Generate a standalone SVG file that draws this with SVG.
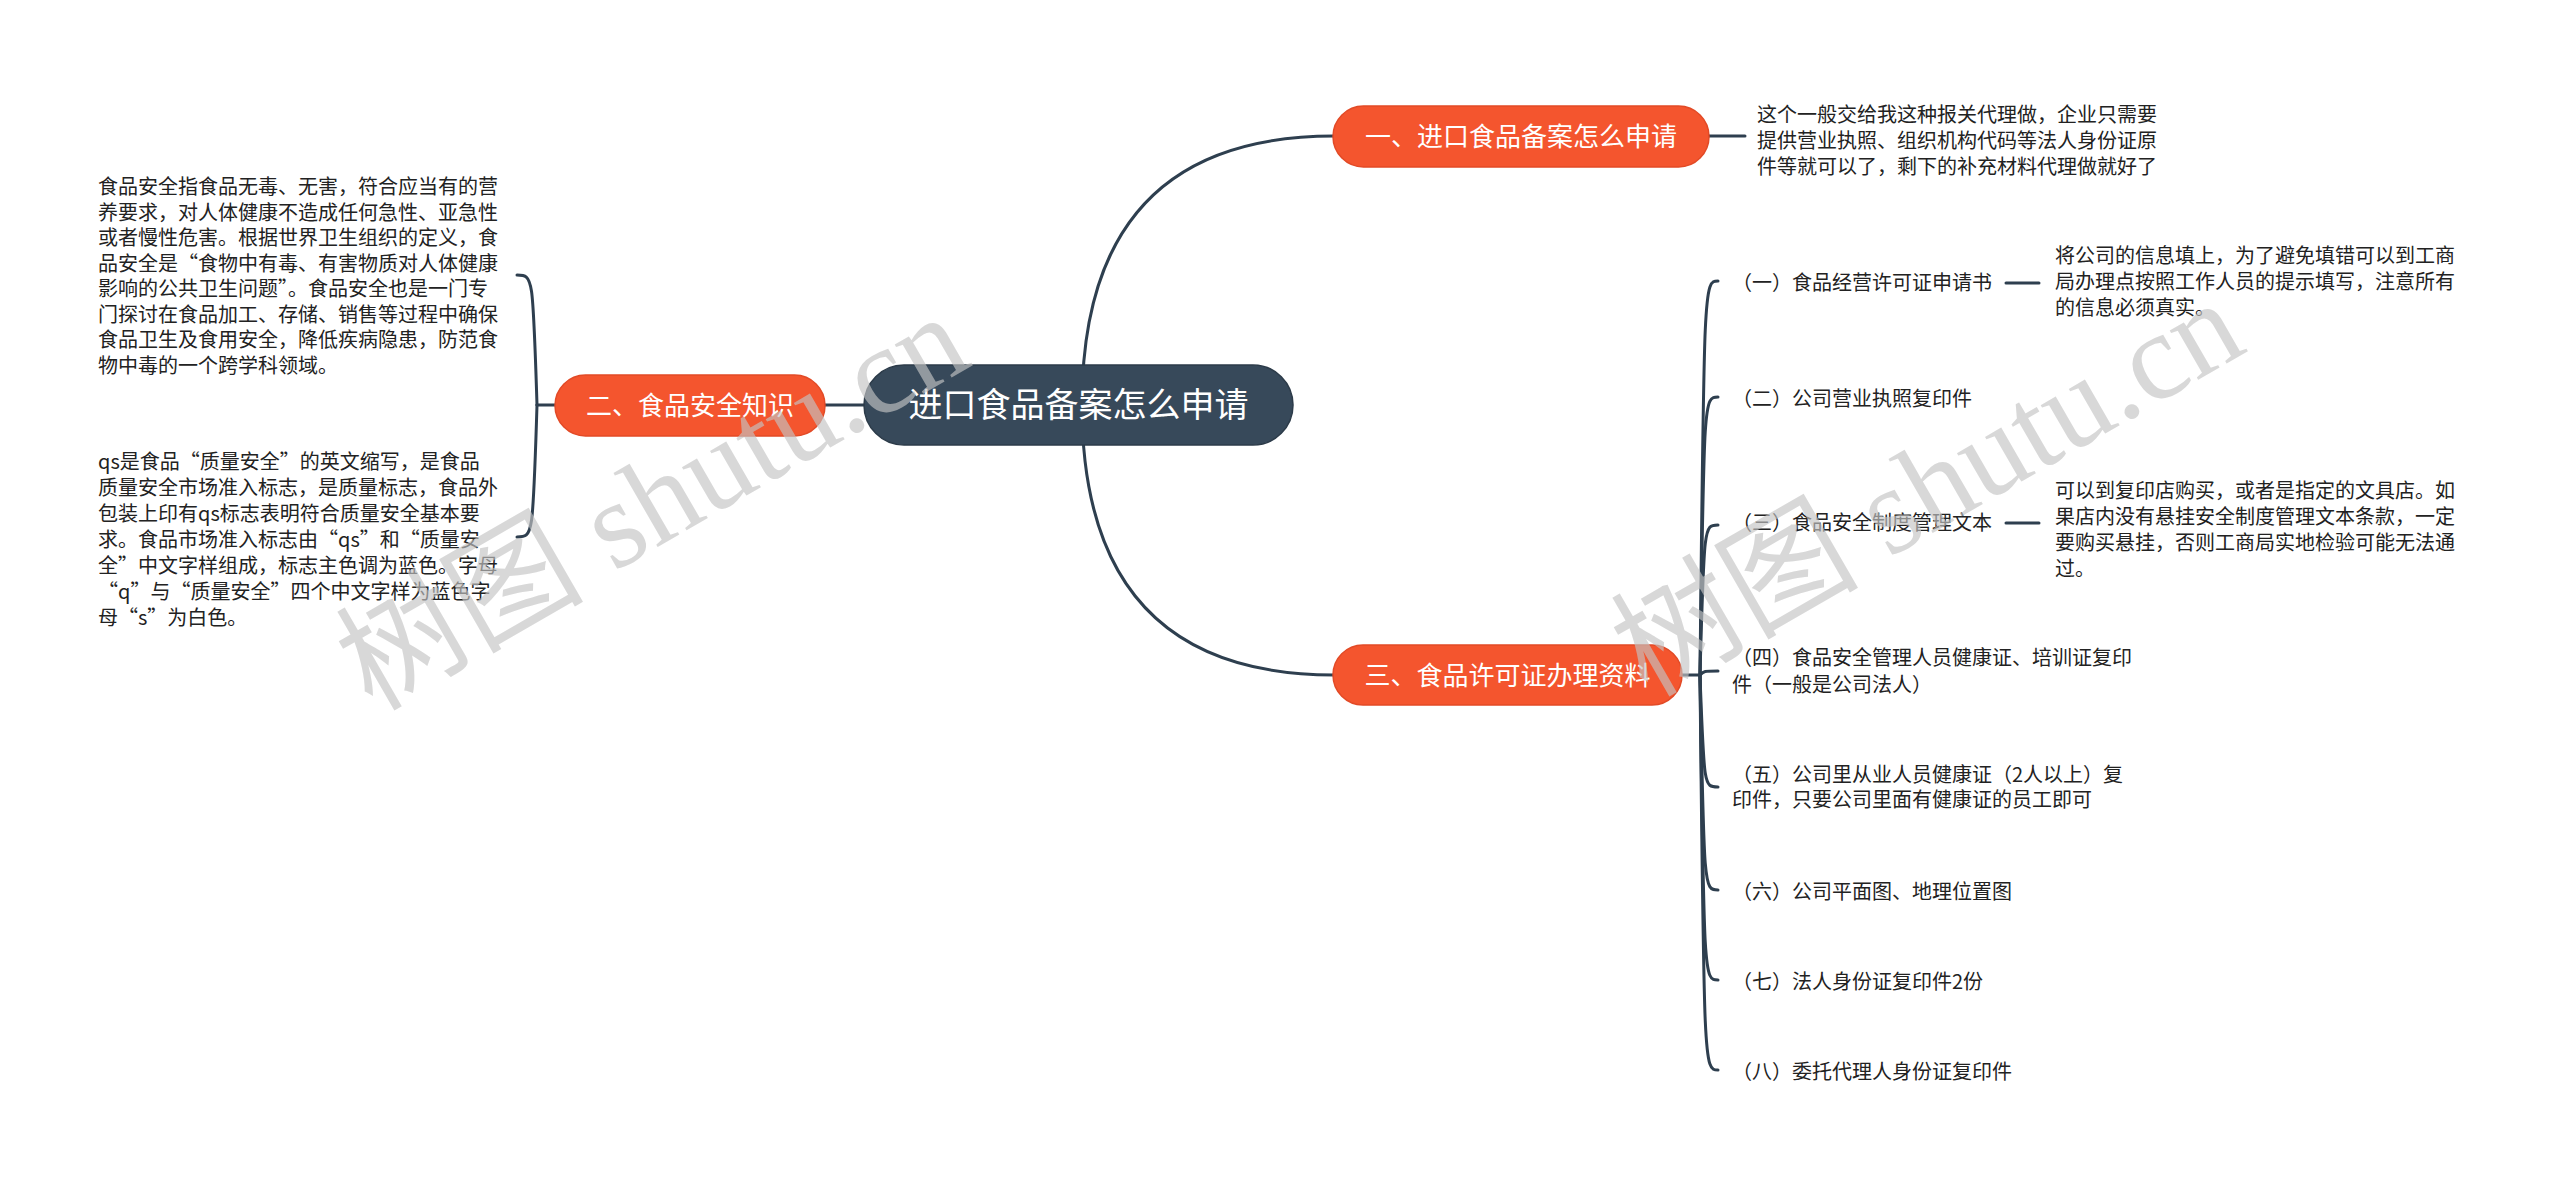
<svg xmlns="http://www.w3.org/2000/svg" width="2560" height="1181" viewBox="0 0 2560 1181">
<style>
.ln{fill:none;stroke:#2e3f4f;stroke-width:3;stroke-linecap:round}
.main{fill:#37495a;stroke:#2c3b49;stroke-width:1.5}
.br{fill:#f4552e;stroke:#e24a26;stroke-width:1.5}
.t{font-family:"Noto Sans CJK SC","Noto Sans",sans-serif;fill:#222;font-size:20px}
.wt{font-family:"Noto Sans CJK SC","Noto Sans",sans-serif;fill:#fff;text-anchor:middle}
.wm{font-family:"Liberation Serif","Noto Sans CJK SC",serif;font-size:124px;fill:#c4c4c4;opacity:0.65}
</style>
<rect width="2560" height="1181" fill="#fff"/>
<g id="connectors">
<path class="ln" d="M1082 405 Q1082 136 1334 136"/>
<path class="ln" d="M1082 405 Q1082 675 1334 675"/>
<path class="ln" d="M864 405 L825 405"/>
<path class="ln" d="M1708 136 L1745 136"/>
<path class="ln" d="M555 405 L537 405"/>
<path class="ln" d="M537 405 C533 275 533 275 517 275"/>
<path class="ln" d="M537 405 C533 537 533 537 517 537"/>
<path class="ln" d="M1682 675 L1700 675"/>
<path class="ln" d="M1700 675 C1704 281 1704 281 1718 281"/>
<path class="ln" d="M1700 675 C1704 397 1704 397 1718 397"/>
<path class="ln" d="M1700 675 C1704 525 1704 525 1718 525"/>
<path class="ln" d="M1700 675 C1704 671 1704 671 1718 671"/>
<path class="ln" d="M1700 675 C1704 787 1704 787 1718 787"/>
<path class="ln" d="M1700 675 C1704 890 1704 890 1718 890"/>
<path class="ln" d="M1700 675 C1704 980 1704 980 1718 980"/>
<path class="ln" d="M1700 675 C1704 1070 1704 1070 1718 1070"/>
<path class="ln" d="M2006 283 L2039 283"/>
<path class="ln" d="M2006 523 L2039 523"/>
</g>
<g id="root">
<rect class="main" x="864" y="365" width="429" height="80" rx="40"/>
<text class="wt" x="1078.5" y="417" font-size="34">进口食品备案怎么申请</text>
</g>
<g id="b1">
<rect class="br" x="1333" y="106" width="376" height="61" rx="30.5"/>
<text class="wt" x="1521" y="146" font-size="26">一、进口食品备案怎么申请</text>
</g>
<g id="b1-d">
<text class="t" x="1757" y="122">这个一般交给我这种报关代理做，企业只需要</text>
<text class="t" x="1757" y="148">提供营业执照、组织机构代码等法人身份证原</text>
<text class="t" x="1757" y="174">件等就可以了，剩下的补充材料代理做就好了</text>
</g>
<g id="b2">
<rect class="br" x="555" y="375" width="270" height="61" rx="30.5"/>
<text class="wt" x="690" y="415" font-size="26">二、食品安全知识</text>
</g>
<g id="b2-1">
<text class="t" x="98" y="194">食品安全指食品无毒、无害，符合应当有的营</text>
<text class="t" x="98" y="219.5">养要求，对人体健康不造成任何急性、亚急性</text>
<text class="t" x="98" y="245">或者慢性危害。根据世界卫生组织的定义，食</text>
<text class="t" x="98" y="270.5">品安全是“食物中有毒、有害物质对人体健康</text>
<text class="t" x="98" y="296">影响的公共卫生问题”。食品安全也是一门专</text>
<text class="t" x="98" y="321.5">门探讨在食品加工、存储、销售等过程中确保</text>
<text class="t" x="98" y="347">食品卫生及食用安全，降低疾病隐患，防范食</text>
<text class="t" x="98" y="372.5">物中毒的一个跨学科领域。</text>
</g>
<g id="b2-2">
<text class="t" x="98" y="469">qs是食品“质量安全”的英文缩写，是食品</text>
<text class="t" x="98" y="495">质量安全市场准入标志，是质量标志，食品外</text>
<text class="t" x="98" y="521">包装上印有qs标志表明符合质量安全基本要</text>
<text class="t" x="98" y="547">求。食品市场准入标志由“qs”和“质量安</text>
<text class="t" x="98" y="573">全”中文字样组成，标志主色调为蓝色。字母</text>
<text class="t" x="98" y="599">“q”与“质量安全”四个中文字样为蓝色字</text>
<text class="t" x="98" y="625">母“s”为白色。</text>
</g>
<g id="b3">
<rect class="br" x="1333" y="645" width="349" height="60" rx="30"/>
<text class="wt" x="1507.5" y="684.5" font-size="26">三、食品许可证办理资料</text>
</g>
<g id="c1"><text class="t" x="1732" y="290">（一）食品经营许可证申请书</text></g>
<g id="c1-d">
<text class="t" x="2055" y="263">将公司的信息填上，为了避免填错可以到工商</text>
<text class="t" x="2055" y="289">局办理点按照工作人员的提示填写，注意所有</text>
<text class="t" x="2055" y="315">的信息必须真实。</text>
</g>
<g id="c2"><text class="t" x="1732" y="406">（二）公司营业执照复印件</text></g>
<g id="c3"><text class="t" x="1732" y="530">（三）食品安全制度管理文本</text></g>
<g id="c3-d">
<text class="t" x="2055" y="498">可以到复印店购买，或者是指定的文具店。如</text>
<text class="t" x="2055" y="524">果店内没有悬挂安全制度管理文本条款，一定</text>
<text class="t" x="2055" y="550">要购买悬挂，否则工商局实地检验可能无法通</text>
<text class="t" x="2055" y="576">过。</text>
</g>
<g id="c4">
<text class="t" x="1732" y="665">（四）食品安全管理人员健康证、培训证复印</text>
<text class="t" x="1732" y="692">件（一般是公司法人）</text>
</g>
<g id="c5">
<text class="t" x="1732" y="782">（五）公司里从业人员健康证（2人以上）复</text>
<text class="t" x="1732" y="807">印件，只要公司里面有健康证的员工即可</text>
</g>
<g id="c6"><text class="t" x="1732" y="899">（六）公司平面图、地理位置图</text></g>
<g id="c7"><text class="t" x="1732" y="989">（七）法人身份证复印件2份</text></g>
<g id="c8"><text class="t" x="1732" y="1079">（八）委托代理人身份证复印件</text></g>
<g id="watermarks">
<text class="wm" transform="translate(372,712) rotate(-30)">树图 shutu.cn</text>
<text class="wm" transform="translate(1647,698) rotate(-30)">树图 shutu.cn</text>
</g>
</svg>
